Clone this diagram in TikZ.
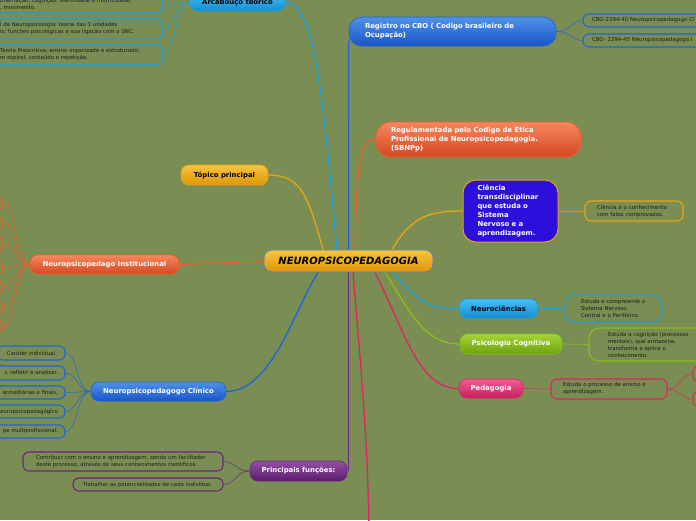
\documentclass[tikz,border=0pt]{standalone}
\usepackage{fontspec}
\setmainfont{DejaVu Sans}
\usetikzlibrary{calc}
\definecolor{bgc}{RGB}{122,142,84}
\definecolor{txt}{RGB}{30,30,30}
\definecolor{yT}{RGB}{247,196,60}\definecolor{yB}{RGB}{222,150,10}\definecolor{yD}{RGB}{232,165,20}
\definecolor{cT}{RGB}{70,190,245}\definecolor{cB}{RGB}{20,140,210}\definecolor{cD}{RGB}{25,160,228}
\definecolor{bT}{RGB}{80,145,232}\definecolor{bB}{RGB}{25,85,200}\definecolor{bD}{RGB}{30,100,220}
\definecolor{oT}{RGB}{245,135,95}\definecolor{oB}{RGB}{212,72,32}\definecolor{oD}{RGB}{240,92,42}
\definecolor{gT}{RGB}{165,212,55}\definecolor{gB}{RGB}{108,162,14}\definecolor{gD}{RGB}{135,192,22}
\definecolor{rT}{RGB}{240,95,150}\definecolor{rB}{RGB}{198,28,92}\definecolor{rD}{RGB}{225,35,100}
\definecolor{pT}{RGB}{150,80,162}\definecolor{pB}{RGB}{88,28,108}\definecolor{pD}{RGB}{105,38,128}
\definecolor{vio}{RGB}{45,15,220}
\definecolor{cenD}{RGB}{70,130,190}
\newcommand\myfs[2]{\fontsize{#1}{#2}\selectfont}
\pgfdeclarelayer{bgl}\pgfdeclarelayer{lnl}\pgfsetlayers{bgl,lnl,main}
\begin{document}
\begin{tikzpicture}[x=1pt,y=-1pt,
 nd/.style={rounded corners=8pt, line width=0.7pt, inner sep=0pt, align=center, font=\myfs{6.9}{9}\bfseries, text=white},
 lf/.style={rounded corners=6pt, line width=1.1pt, inner ysep=0pt, font=\myfs{5.4}{7}, text=txt, align=left},
 cn/.style={line width=1.3pt},
 lc/.style={line width=0.7pt, opacity=0.75},
 yel/.style={top color=yT,bottom color=yB,draw=yD},
 cya/.style={top color=cT,bottom color=cB,draw=cD},
 blu/.style={top color=bT,bottom color=bB,draw=bD},
 ora/.style={top color=oT,bottom color=oB,draw=oD},
 grn/.style={top color=gT,bottom color=gB,draw=gD},
 red/.style={top color=rT,bottom color=rB,draw=rD},
 pur/.style={top color=pT,bottom color=pB,draw=pD}]
\useasboundingbox (0,0) rectangle (696,520);
\begin{pgfonlayer}{bgl}\fill[bgc] (0,0) rectangle (696,520);\end{pgfonlayer}
\clip (0,0) rectangle (696,520);
% main nodes
\node[nd, yel, draw=cenD, minimum width=169, minimum height=22, font=\myfs{10}{12}\bfseries\itshape, text=black] (c) at (348.5,261) {NEUROPSICOPEDAGOGIA};
\node[nd, cya, minimum width=95, minimum height=18, text=black] (arc) at (237.5,2) {Arcabouço teórico};
\node[nd, yel, minimum width=87, minimum height=20, text=black] (top) at (224.5,175) {Tópico principal};
\node[nd, ora, minimum width=149, minimum height=19] (inst) at (104.5,264.5) {Neuropsicopedago Institucional};
\node[nd, blu, minimum width=135, minimum height=19] (clin) at (158.5,391.5) {Neuropsicopedagogo Clínico};
\node[nd, pur, minimum width=97, minimum height=20] (func) at (298.5,471) {Principais funções:};
\node[nd, cya, minimum width=79, minimum height=19, text=black] (neuro) at (498.5,308.5) {Neurociências};
\node[nd, grn, minimum width=102, minimum height=20] (psico) at (511,344) {Psicologia Cognitiva};
\node[nd, red, minimum width=64, minimum height=19] (peda) at (491,388.5) {Pedagogia};
\node[nd, blu, rounded corners=13pt, minimum height=29, inner xsep=16, text width=175, align=left] (cbo) at (452.5,31.5) {Registro no CBO ( Codigo brasileiro de\\Ocupação)};
\node[nd, ora, rounded corners=15pt, minimum height=35, inner xsep=15, text width=175, align=left] (reg) at (478.5,139.5) {Regulamentada pelo Codigo de Etica\\Profissional de Neuropsicopedagogia.\\(SBNPp)};
\node[nd, fill=vio, draw=yD, line width=1pt, rounded corners=13pt, minimum height=62, inner xsep=14.5, text width=66, align=left] (cien) at (510.5,211) {Ciência\\transdisciplinar\\que estuda o\\Sistema\\Nervoso e a\\aprendizagem.};
% leaves
\node[lf, draw=cD, minimum height=18, inner xsep=10, text width=153] (a1) at (76.5,4) {imentação; cognição; afetividade e motricidade,\\, movimento.};
\node[lf, draw=cD, minimum height=20, inner xsep=10, text width=153] (a2) at (76.5,29) {l da Neuropsicologia; teoria das 3 unidades\\is; funções psicológicas e sua ligação com o SNC.};
\node[lf, draw=cD, minimum height=20, inner xsep=10, text width=153] (a3) at (76.5,55) {Teoria Prescritiva; ensino organizado e estruturado;\\m espiral; conteúdo e repetição.};
\node[lf, draw=bD, minimum height=13, inner xsep=9, text width=119] (cb1) at (651.5,20.5) {CBO-2394-40 Neuropsicopedagogo Cl};
\node[lf, draw=bD, minimum height=13, inner xsep=9, text width=119] (cb2) at (651.5,40.5) {CBO- 2394-45 Neuropsicopedagogo I};
\node[lf, draw=yD, minimum height=20, inner xsep=12, text width=74] (ce1) at (634,211) {Ciência é o conhecimento\\com fatos comprovados.};
\node[lf, draw=cD, rounded corners=9pt, minimum height=27, inner xsep=16, text width=65] (ne1) at (613.5,308.5) {Estuda e compreende o\\Sistema Nervoso\\Central e o Periférico.};
\node[lf, draw=gD, rounded corners=10pt, minimum height=33, inner xsep=19, text width=93] (ps1) at (654.5,344.5) {Estuda a cognição (processos\\mentais), que armazena,\\transforma e aplica o\\conhecimento.};
\node[lf, draw=rD, minimum height=20, inner xsep=12, text width=92] (pe1) at (609,389) {Estuda o processo de ensino e\\aprendizagem.};
\node[lf, draw=rD, minimum width=37, minimum height=16] (pg1) at (711.5,374) {};
\node[lf, draw=rD, minimum width=37, minimum height=16] (pg2) at (711.5,399) {};
\node[lf, draw=pD, minimum height=19, inner xsep=13, text width=174] (f1) at (123,461.5) {Contribuir com o ensino e aprendizagem, sendo um facilitador\\deste processo, através de seus conhecimentos científicos.};
\node[lf, draw=pD, minimum height=13, inner xsep=10, text width=130] (f2) at (148,484.5) {Trabalhar as potencialidades de cada indivíduo.};
\node[lf, draw=bD, minimum width=68, minimum height=14, align=center] (k1) at (31,353) {Caráter individual};
\node[lf, draw=bD, minimum height=14, inner xsep=7, text width=71, align=right] (k2) at (22.5,373) {r, refletir e analisar.};
\node[lf, draw=bD, minimum height=13, inner xsep=7, text width=71, align=right] (k3) at (22.5,392.5) {ermediárias e finais.};
\node[lf, draw=bD, minimum height=13, inner xsep=7, text width=71, align=right] (k4) at (22.5,411.5) {europsicopedagógico};
\node[lf, draw=bD, minimum height=13, inner xsep=7, text width=71, align=right] (k5) at (22.5,431.5) {pe multiprofissional.};
\foreach \i/\yy/\hh in {1/203.5/13, 2/223.5/13, 3/244/18, 4/267.5/13, 5/287.5/13, 6/307.5/13, 7/326.5/13}
  \node[lf, draw=oD, minimum width=23, minimum height=\hh] (i\i) at (-8.5,\yy) {};
\coordinate (offc) at (369,526);
% connectors
\begin{pgfonlayer}{lnl}
\clip (0,0) rectangle (696,520);
\draw[cn, cD] ([xshift=-11.5]c.north) .. controls +(-14,-150) and +(30,0) .. (arc.east);
\draw[cn, yD] ([xshift=-25.5]c.north) .. controls +(-15,-55) and +(32,0) .. (top.east);
\draw[cn, bD] (c.north) -- ($(cbo.west)+(0,8)$);
\draw[cn, oD] ([xshift=6.5]c.north) .. controls +(2,-90) and +(-16,0) .. (reg.west);
\draw[cn, yD] ([xshift=43.5]c.north) .. controls +(20,-35) and +(-30,0) .. (cien.west);
\draw[cn, cD] ([xshift=44.5]c.south) .. controls +(25,30) and +(-30,0) .. (neuro.west);
\draw[cn, gD] ([xshift=36.5]c.south) .. controls +(25,40) and +(-35,0) .. (psico.west);
\draw[cn, rD] ([xshift=26.5]c.south) .. controls +(30,60) and +(-40,0) .. (peda.west);
\draw[cn, rD] ([xshift=4.5]c.south) .. controls +(8,100) and +(-2,-100) .. (offc);
\draw[cn, pD] (c.south) -- (c.south |- func.east);
\draw[cn, bD] ([xshift=-30.5]c.south) .. controls +(-25,40) and +(45,0) .. (clin.east);
\draw[cn, oD] (c.west) -- (inst.east);
\foreach \n in {a1,a2,a3} \draw[lc, cD] (arc.west) .. controls +(-15,0) and +(12,0) .. (\n.east);
\foreach \n in {cb1,cb2} \draw[lc, bD] (cbo.east) .. controls +(15,0) and +(-12,0) .. (\n.west);
\draw[lc, yD] (cien.east) -- (ce1.west);
\draw[lc, cD] (neuro.east) -- (ne1.west);
\draw[lc, gD] (psico.east) -- (ps1.west);
\draw[lc, rD] (peda.east) -- (pe1.west);
\foreach \n in {pg1,pg2} \draw[lc, rD] (pe1.east) .. controls +(14,0) and +(-12,0) .. (\n.west);
\foreach \n in {f1,f2} \draw[lc, pD] (func.west) .. controls +(-14,0) and +(12,0) .. (\n.east);
\foreach \n in {k1,k2,k3,k4,k5} \draw[lc, bD] (clin.west) .. controls +(-14,0) and +(12,0) .. (\n.east);
\foreach \n in {i1,i2,i3,i4,i5,i6,i7} \draw[lc, oD] (inst.west) .. controls +(-14,0) and +(12,0) .. (\n.east);
\end{pgfonlayer}
\end{tikzpicture}
\end{document}
